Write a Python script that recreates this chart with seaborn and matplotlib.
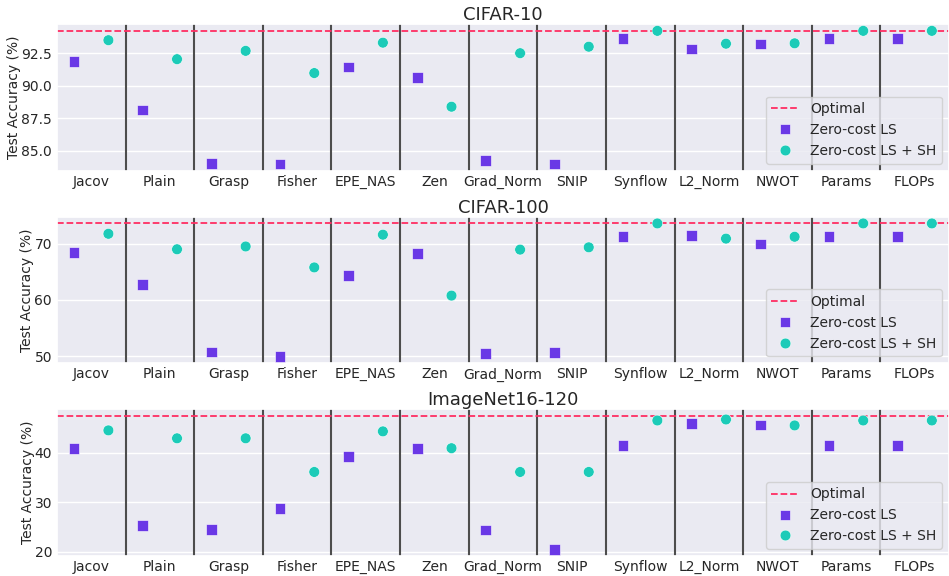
import matplotlib
matplotlib.use("Agg")
import numpy as np
import pandas as pd
import matplotlib.pyplot as plt
import seaborn as sns

# Zero-cost proxies evaluated
metrics = ["Jacov", "Plain", "Grasp", "Fisher", "EPE_NAS", "Zen", "Grad_Norm",
           "SNIP", "Synflow", "L2_Norm", "NWOT", "Params", "FLOPs"]

# Test accuracy (%) per dataset: local search alone, and with successive halving
cifar10_ls = [91.86, 88.12, 84.03, 83.97, 91.43, 90.61, 84.23, 83.97, 93.64, 92.83, 93.21, 93.64, 93.64]
cifar10_sh = [93.50, 92.04, 92.68, 90.97, 93.31, 88.38, 92.50, 93.00, 94.22, 93.23, 93.26, 94.22, 94.22]
cifar10_opt = 94.22

cifar100_ls = [68.4, 62.7, 50.7, 49.9, 64.3, 68.2, 50.4, 50.6, 71.23, 71.4, 69.93, 71.23, 71.23]
cifar100_sh = [71.76, 69.0, 69.5, 65.77, 71.6, 60.76, 68.94, 69.35, 73.6, 70.9, 71.23, 73.6, 73.6]
cifar100_opt = 73.6

imagenet_ls = [40.8, 25.3, 24.5, 28.7, 39.3, 40.9, 24.4, 20.5, 41.5, 45.9, 45.6, 41.5, 41.5]
imagenet_sh = [44.5, 42.9, 42.9, 36.1, 44.3, 40.9, 36.1, 36.1, 46.5, 46.7, 45.5, 46.5, 46.5]
imagenet_opt = 47.4

datasets = ["CIFAR-10", "CIFAR-100", "ImageNet16-120"]
series_ls = [cifar10_ls, cifar100_ls, imagenet_ls]
series_sh = [cifar10_sh, cifar100_sh, imagenet_sh]
optima = [cifar10_opt, cifar100_opt, imagenet_opt]

methods = ["Zero-cost LS", "Zero-cost LS + SH"]
offsets = {"Zero-cost LS": -0.25, "Zero-cost LS + SH": 0.25}
palette = {"Zero-cost LS": "#6a38e6", "Zero-cost LS + SH": "#1ccbb8"}
marker_map = {"Zero-cost LS": "s", "Zero-cost LS + SH": "o"}
opt_color = "#ff2e63"

sns.set_theme(style="darkgrid")
plt.rcParams["font.family"] = ["DejaVu Sans"]

fig, axes = plt.subplots(3, 1, figsize=(9.49, 5.76), dpi=100)
fig.subplots_adjust(left=0.060, right=1.0, top=0.958, bottom=0.035, hspace=0.315)

for ax, name, ls_vals, sh_vals, opt in zip(axes, datasets, series_ls, series_sh, optima):
    rows = []
    for i, m in enumerate(metrics):
        rows.append({"pos": i + offsets[methods[0]], "acc": ls_vals[i], "method": methods[0]})
        rows.append({"pos": i + offsets[methods[1]], "acc": sh_vals[i], "method": methods[1]})
    df = pd.DataFrame(rows)

    ax.axhline(opt, color=opt_color, linestyle="--", linewidth=1.3, label="Optimal", zorder=2)
    for i in range(len(metrics) - 1):
        ax.axvline(i + 0.5, color="#4d4d4d", linewidth=1.5, zorder=1.5)

    sns.scatterplot(data=df, x="pos", y="acc", hue="method", style="method",
                    palette=palette, markers=marker_map, hue_order=methods,
                    style_order=methods, s=60, edgecolor="white", linewidth=0.4,
                    ax=ax, zorder=3)

    ax.set_xlim(-0.5, len(metrics) - 0.5)
    ax.set_xticks(range(len(metrics)))
    ax.set_xticklabels(metrics, fontsize=10)
    ax.tick_params(axis="y", labelsize=10, length=0, pad=3.5)
    ax.tick_params(axis="x", length=0, pad=3)
    ax.grid(False, axis="x")
    ax.set_xlabel("")
    ax.set_ylabel("Test Accuracy (%)", fontsize=10, labelpad=0)
    ax.set_title(name, fontsize=13, pad=3)
    ax.legend(loc="lower right", fontsize=10, framealpha=0.8)

fig.savefig("out.png", dpi=100)
